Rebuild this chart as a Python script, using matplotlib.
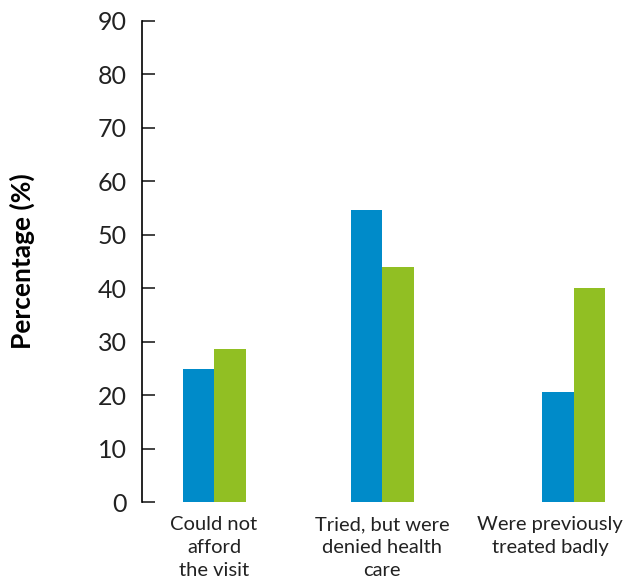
import matplotlib

matplotlib.use("Agg")
import matplotlib.pyplot as plt
import numpy as np

categories = ["Could not\nafford\nthe visit", "Tried, but were\ndenied health\ncare",
              "Were previously\ntreated badly"]
blue_values = [24.9, 54.6, 20.6]
green_values = [28.7, 44.0, 40.1]

plt.rcParams["font.family"] = ["Lato", "DejaVu Sans"]

fig = plt.figure(figsize=(6.25, 5.81), dpi=100)
ax = fig.add_axes([142 / 625, 79 / 581, 483 / 625, 481 / 581])

# group centres; last group sits a little right of its label in the original
label_pos = np.arange(len(categories))
group_pos = np.array([0.0, 1.0, 2.14])
width = 0.1875

ax.bar(group_pos - width / 2, blue_values, width, color="#008bc9", linewidth=0)
ax.bar(group_pos + width / 2, green_values, width, color="#91bf23", linewidth=0)

ax.set_xlim(-0.4286, 2.446)
ax.set_ylim(0, 90)
ax.set_yticks(np.arange(0, 91, 10))
ax.set_xticks(label_pos)
ax.set_xticklabels(categories, fontsize=14.5, linespacing=1.42, color="#222222")
ax.tick_params(axis="x", length=0, pad=10)
ax.tick_params(axis="y", direction="in", length=9, width=1.2, labelsize=18,
               pad=11, colors="#222222")

for side in ["top", "right", "bottom"]:
    ax.spines[side].set_visible(False)
ax.spines["left"].set_linewidth(1.2)

ax.set_ylabel("Percentage (%)", fontsize=19, fontweight="bold", labelpad=45)

fig.savefig("out.png", dpi=100)
